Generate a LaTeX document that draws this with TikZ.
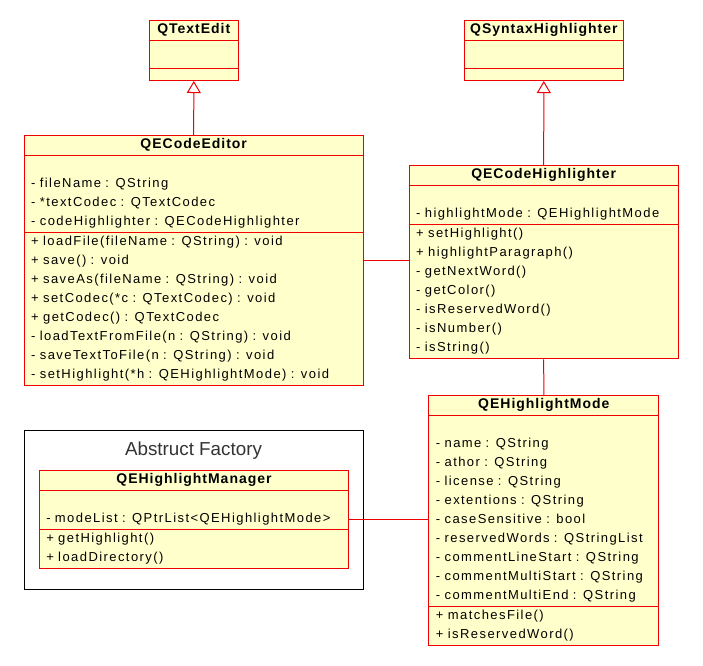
\documentclass[tikz,border=0pt]{standalone}
\usepackage{fontspec}
\usepackage{tikz}
\usetikzlibrary{shapes.multipart}
\usetikzlibrary{arrows.meta}
\newfontfamily\umlfont{Liberation Sans}[LetterSpace=11,WordSpace=1.4]
\newfontfamily\titlefont{Liberation Sans}[LetterSpace=7]
\newfontfamily\framefont{Liberation Sans}
\definecolor{umlyellow}{RGB}{255,255,204}
\definecolor{umlred}{RGB}{240,0,0}
\definecolor{framegray}{RGB}{51,51,51}
\newcommand{\ustrut}{\rule[-6.8pt]{0pt}{19pt}}
\newcommand{\classname}[1]{\makebox[\hsize]{\titlefont\bfseries\fontsize{14}{19}\selectfont\ustrut #1}}

\begin{document}
\begin{tikzpicture}[x=1pt,y=-1pt,>/.tip={Triangle[open,length=12pt,width=14pt]},
	umlclass/.style={draw=umlred,fill=umlyellow,line width=1pt,rectangle split,rectangle split parts=3,
		inner xsep=7pt,inner ysep=0pt,align=left,anchor=north,font=\umlfont\fontsize{13}{19}\selectfont},
	link/.style={draw=umlred,line width=1pt}]
	\useasboundingbox (0,0) rectangle (703,665);

	\draw (193.8,20) node (textedit) [umlclass,text width=75pt] {\classname{QTextEdit}
		\nodepart{two}\rule{0pt}{27pt}
		\nodepart{three}\rule{0pt}{11pt}};
	\draw (543.8,20) node (syntaxhl) [umlclass,text width=145pt] {\classname{QSyntaxHighlighter}
		\nodepart{two}\rule{0pt}{27pt}
		\nodepart{three}\rule{0pt}{11pt}};

	\draw (193.7,135.3) node (editor) [umlclass,text width=325pt] {\classname{QECodeEditor}
		\nodepart{two}\ustrut\\
		- fileName : QString\\
		- *textCodec : QTextCodec\\
		- codeHighlighter : QECodeHighlighter\ustrut
		\nodepart{three}\ustrut + loadFile(fileName : QString) : void\\
		+ save() : void\\
		+ saveAs(fileName : QString) : void\\
		+ setCodec(*c : QTextCodec) : void\\
		+ getCodec() : QTextCodec\\
		- loadTextFromFile(n : QString) : void\\
		- saveTextToFile(n : QString) : void\\
		- setHighlight(*h : QEHighlightMode) : void\ustrut};

	\draw (543.7,165.3) node (codehl) [umlclass,text width=255pt] {\classname{QECodeHighlighter}
		\nodepart{two}\ustrut\\
		- highlightMode : QEHighlightMode\ustrut
		\nodepart{three}\ustrut + setHighlight()\\
		+ highlightParagraph()\\
		- getNextWord()\\
		- getColor()\\
		- isReservedWord()\\
		- isNumber()\\
		- isString()\ustrut};

	\draw (543.8,395) node (mode) [umlclass,text width=215.7pt] {\classname{QEHighlightMode}
		\nodepart{two}\ustrut\\
		- name : QString\\
		- athor : QString\\
		- license : QString\\
		- extentions : QString\\
		- caseSensitive : bool\\
		- reservedWords : QStringList\\
		- commentLineStart : QString\\
		- commentMultiStart : QString\\
		- commentMultiEnd : QString\ustrut
		\nodepart{three}\ustrut + matchesFile()\\
		+ isReservedWord()\ustrut};

	% abstract factory frame
	\draw (193.8,509.8) node (factory) [draw=black,line width=1pt,minimum width=339pt,minimum height=159pt] {};
	\draw (193.5,450.2) node (factorytitle) [text=framegray,font=\framefont\fontsize{18.8}{22}\selectfont] {Abstruct Factory};
	\draw (194,470.3) node (manager) [umlclass,text width=295.4pt] {\classname{QEHighlightManager}
		\nodepart{two}\ustrut\\
		- modeList : QPtrList<QEHighlightMode>\ustrut
		\nodepart{three}\ustrut + getHighlight()\\
		+ loadDirectory()\ustrut};

	\draw[link,->] (editor.north) -- (textedit.south);
	\draw[link,->] (codehl.north) -- (syntaxhl.south);
	\draw[link] (editor.east) -- (editor.east -| codehl.west);
	\draw[link] (codehl.south) -- (mode.north);
	\draw[link] (manager.east) -- (manager.east -| mode.west);
\end{tikzpicture}
\end{document}
